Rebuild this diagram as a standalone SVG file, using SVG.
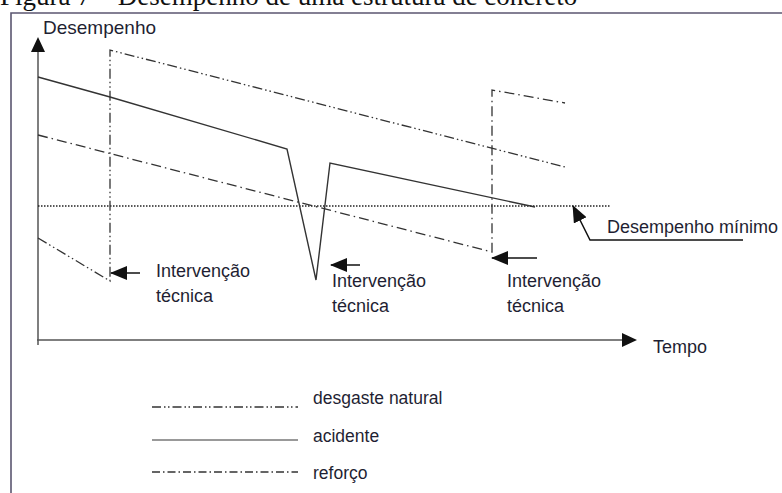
<svg xmlns="http://www.w3.org/2000/svg" width="782" height="493" viewBox="0 0 782 493">
<defs>
<style>
.t{font-family:"Liberation Sans",Arial,sans-serif;font-size:18px;fill:#1f1f33}
.cap{font-family:"Liberation Serif","Times New Roman",serif;font-size:27px;fill:#111}
.ax{stroke:#555;stroke-width:1.5;fill:none}
.sol{stroke:#333;stroke-width:1.4;fill:none}
.dd{stroke:#333;stroke-width:1.3;fill:none;stroke-dasharray:10 3 1.5 3 1.5 3}
.dc{stroke:#333;stroke-width:1.3;fill:none;stroke-dasharray:10 4 1.5 4}
.dot{stroke:#222;stroke-width:1.5;fill:none;stroke-dasharray:1.5 1.5}
.arr{stroke:#111;stroke-width:1.5;fill:none}
</style>
<marker id="ah" markerUnits="userSpaceOnUse" markerWidth="17" markerHeight="14" refX="16" refY="7" orient="auto">
<path d="M0,0 L17,7 L0,14 z" fill="#111"/>
</marker>
</defs>
<rect width="782" height="493" fill="#fff"/>
<text class="cap" x="0" y="5">Figura 7 – Desempenho de uma estrutura de concreto</text>
<path d="M11,493 V13 H782" stroke="#5b5670" stroke-width="1.6" fill="none"/>
<g id="axes">
<path class="ax" d="M38,46 V345"/>
<polygon points="38,37 31,52 45,52" fill="#111"/>
<path class="ax" d="M37,340 H626"/>
<polygon points="637,340 622,333 622,347" fill="#111"/>
<text class="t" x="43" y="34" style="font-size:19px">Desempenho</text>
<text class="t" x="653" y="353">Tempo</text>
</g>
<g id="curves">
<path class="dot" d="M38,206 H610"/>
<path class="dd" d="M38,238 L110,281 L110,50 L565,167"/>
<path class="dc" d="M38,135 L492,252 L492,90 L565,103"/>
<path class="sol" d="M38,77 L110,97 L287,149 L316,280 L330,163 L535,207"/>
</g>
<g id="connectors">
<path class="arr" d="M140,273 H111" marker-end="url(#ah)"/>
<path class="arr" d="M360,265 H331" marker-end="url(#ah)"/>
<path class="arr" d="M537,258 H492" marker-end="url(#ah)"/>
<path class="arr" d="M743,240 H590 L573,206" marker-end="url(#ah)"/>
</g>
<g id="labels">
<text class="t" x="156" y="277">Intervenção</text>
<text class="t" x="156" y="302">técnica</text>
<text class="t" x="332" y="287">Intervenção</text>
<text class="t" x="332" y="312">técnica</text>
<text class="t" x="507" y="287">Intervenção</text>
<text class="t" x="507" y="312">técnica</text>
<text class="t" x="607" y="233">Desempenho mínimo</text>
</g>
<g id="legend">
<path stroke="#333" stroke-width="1.5" fill="none" stroke-dasharray="9 3 1.5 2.5 1.5 3" d="M152,407 H298"/>
<path stroke="#777" stroke-width="1.6" fill="none" d="M152,440 H298"/>
<path stroke="#333" stroke-width="1.5" fill="none" stroke-dasharray="8 3 1.5 3" d="M152,472 H298"/>
<text class="t" x="313" y="404" style="font-size:17.5px">desgaste natural</text>
<text class="t" x="313" y="442" style="font-size:17.5px">acidente</text>
<text class="t" x="313" y="479" style="font-size:17.5px">reforço</text>
</g>
</svg>
